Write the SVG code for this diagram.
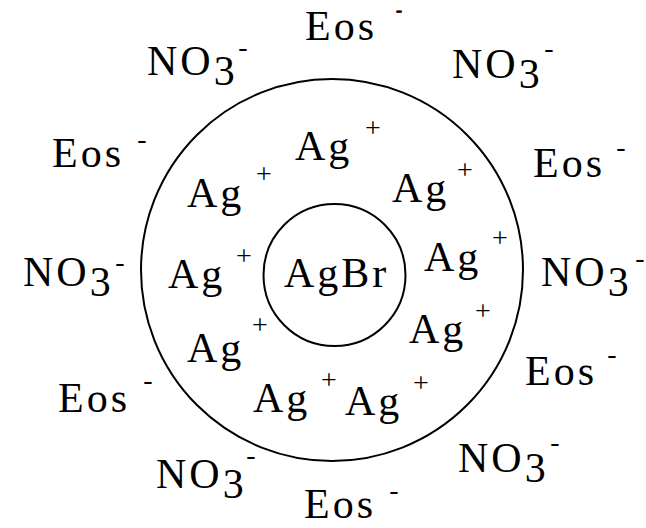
<svg xmlns="http://www.w3.org/2000/svg" width="646" height="528" viewBox="0 0 646 528">
<style>
text{font-family:'Liberation Serif','Times New Roman',Times,'DejaVu Serif',serif;fill:#000}
.t{font-size:42px;letter-spacing:3px}
.s{font-size:28px;text-anchor:middle}
.c{fill:none;stroke:#000;stroke-width:2}
</style>
<rect width="646" height="528" fill="#fff"/>
<g id="shells">
<circle id="outer" class="c" cx="332" cy="270" r="191"/>
<circle id="inner" class="c" cx="334.5" cy="275" r="71"/>
</g>
<g id="core"><text class="t" x="284" y="287">AgBr</text></g>
<g id="ag1"><text class="t" x="295" y="160">Ag</text><text class="s" x="373" y="137">+</text></g>
<g id="ag2"><text class="t" x="187" y="207">Ag</text><text class="s" x="264" y="183">+</text></g>
<g id="ag3"><text class="t" x="392" y="202">Ag</text><text class="s" x="465" y="179">+</text></g>
<g id="ag4"><text class="t" x="168" y="288">Ag</text><text class="s" x="244" y="265">+</text></g>
<g id="ag5"><text class="t" x="424" y="271">Ag</text><text class="s" x="500" y="247">+</text></g>
<g id="ag6"><text class="t" x="187" y="362">Ag</text><text class="s" x="260" y="334">+</text></g>
<g id="ag7"><text class="t" x="409" y="343">Ag</text><text class="s" x="483" y="320">+</text></g>
<g id="ag8"><text class="t" x="253" y="412">Ag</text><text class="s" x="329" y="389">+</text></g>
<g id="ag9"><text class="t" x="345" y="415">Ag</text><text class="s" x="421" y="392">+</text></g>
<g id="eos1"><text class="t" x="305" y="40">Eos</text><text class="s" x="399" y="16" style="font-size:18px" stroke="#000" stroke-width="0.8">-</text></g>
<g id="eos2"><text class="t" x="52" y="167">Eos</text><text class="s" x="142" y="148">-</text></g>
<g id="eos3"><text class="t" x="533" y="177">Eos</text><text class="s" x="621" y="156">-</text></g>
<g id="eos4"><text class="t" x="58" y="412">Eos</text><text class="s" x="148" y="389">-</text></g>
<g id="eos5"><text class="t" x="525" y="385">Eos</text><text class="s" x="612" y="363">-</text></g>
<g id="eos6"><text class="t" x="304" y="518">Eos</text><text class="s" x="394" y="499">-</text></g>
<g id="no1"><text class="t" x="147" y="75">NO<tspan dy="10">3</tspan></text><text class="s" x="243" y="56">-</text></g>
<g id="no2"><text class="t" x="452" y="78">NO<tspan dy="10">3</tspan></text><text class="s" x="549" y="57">-</text></g>
<g id="no3"><text class="t" x="23" y="286">NO<tspan dy="10">3</tspan></text><text class="s" x="120" y="271">-</text></g>
<g id="no4"><text class="t" x="541" y="286">NO<tspan dy="10">3</tspan></text><text class="s" x="640" y="267">-</text></g>
<g id="no5"><text class="t" x="458" y="472">NO<tspan dy="10">3</tspan></text><text class="s" x="555" y="451">-</text></g>
<g id="no6"><text class="t" x="156" y="488">NO<tspan dy="10">3</tspan></text><text class="s" x="251" y="464">-</text></g>
</svg>
